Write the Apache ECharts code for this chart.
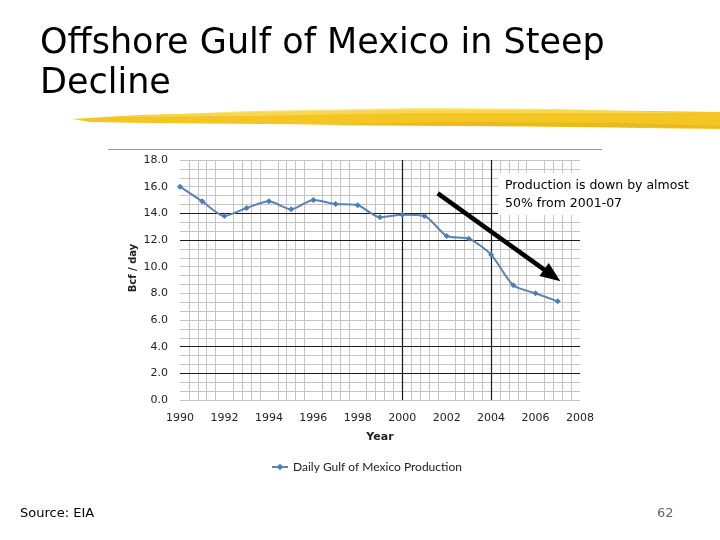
<!DOCTYPE html>
<html>
<head>
<meta charset="utf-8">
<script src="https://cdn.jsdelivr.net/npm/echarts@6/dist/echarts.min.js"></script>
<style>
html,body{margin:0;padding:0;background:#fff;}
#chart{width:720px;height:540px;}
</style>
</head>
<body>
<div id="chart"></div>
<script>
// ---- data ----
var years = [1990,1991,1992,1993,1994,1995,1996,1997,1998,1999,2000,2001,2002,2003,2004,2005,2006,2007];
var production = [16.0,14.9,13.8,14.4,14.9,14.3,15.0,14.7,14.6,13.7,13.9,13.8,12.3,12.1,10.9,8.6,8.0,7.4];
var seriesName = 'Daily Gulf of Mexico Production';
var darkGridX = [2000, 2004];
var darkGridY = [2, 4, 12, 14];
var arrowFrom = [2001.6, 15.5];
var arrowTo = [2006.75, 9.35];
var titleLines = ['Offshore Gulf of Mexico in Steep', 'Decline'];
var noteLines = ['Production is down by almost', '50% from 2001-07'];

var chart = echarts.init(document.getElementById('chart'));
var pts = years.map(function(y, i){ return [y, production[i]]; });
var darkLines = darkGridX.map(function(x){ return {xAxis: x}; })
  .concat(darkGridY.map(function(y){ return {yAxis: y}; }));

var comic = '"Comic Sans MS", "DejaVu Sans", sans-serif';

chart.setOption({
  animation: false,
  backgroundColor: '#fff',
  grid: {left: 180, top: 160, width: 400, height: 240},
  xAxis: {
    type: 'value', min: 1990, max: 2008, interval: 2,
    axisLine: {show: false}, axisTick: {show: false},
    axisLabel: {fontFamily: 'DejaVu Sans', fontSize: 11, color: '#222', margin: 13,
      formatter: function(v){ return String(v); }},
    splitLine: {show: false},
    minorTick: {show: false, splitNumber: 5},
    minorSplitLine: {show: true, lineStyle: {color: '#c4c4c4', width: 1}},
    name: 'Year', nameLocation: 'middle', nameGap: 32,
    nameTextStyle: {fontFamily: 'DejaVu Sans', fontSize: 11, fontWeight: 'bold', color: '#222'}
  },
  yAxis: {
    type: 'value', min: 0, max: 18, interval: 2,
    axisLine: {show: false}, axisTick: {show: false},
    axisLabel: {fontFamily: 'DejaVu Sans', fontSize: 11, color: '#222', margin: 12,
      formatter: function(v){ return v.toFixed(1); }},
    splitLine: {show: true, lineStyle: {color: '#c4c4c4', width: 1}},
    minorTick: {show: false, splitNumber: 3},
    minorSplitLine: {show: true, lineStyle: {color: '#c4c4c4', width: 1}}
  },
  legend: {
    left: 266, top: 456, itemWidth: 16, itemHeight: 8, itemGap: 4,
    textStyle: {fontFamily: 'Lato', fontSize: 12, color: '#222'},
    data: [seriesName]
  },
  series: [{
    name: seriesName,
    type: 'line',
    smooth: 0.25,
    data: pts,
    symbol: 'diamond', symbolSize: 6,
    itemStyle: {color: '#4A7EBB'},
    lineStyle: {color: '#5B82B0', width: 2},
    z: 5,
    markLine: {
      silent: true, symbol: 'none', animation: false,
      label: {show: false},
      lineStyle: {color: '#1a1a1a', width: 1.2, type: 'solid'},
      data: darkLines
    }
  }, {
    name: 'arrow',
    type: 'line',
    data: [],
    markLine: {
      silent: true, animation: false,
      symbol: ['none', 'triangle'], symbolSize: [16, 20],
      label: {show: false},
      itemStyle: {color: '#000'},
      lineStyle: {color: '#000', width: 4.5, type: 'solid'},
      data: [[{coord: arrowFrom}, {coord: arrowTo}]]
    },
    z: 10
  }],
  graphic: [
    // brush stroke under title
    {type: 'polygon', z: 1, shape: {points: [[72,119],[140,115],[260,112],[400,110],[540,110],[650,111],[720,112],[720,129],[640,128],[520,126],[400,125],[260,124],[150,123],[90,122]]},
      style: {fill: '#F3C623'}},
    {type: 'polygon', z: 2, shape: {points: [[110,117],[250,111],[420,108],[560,109],[700,113],[560,113],[420,113],[250,116]]},
      style: {fill: '#F8DA5C', opacity: 0.8}},
    {type: 'polygon', z: 2, shape: {points: [[300,125],[460,122],[620,123],[720,126],[720,128],[600,127],[450,126]]},
      style: {fill: '#E9B81A', opacity: 0.9}},
    // title
    {type: 'text', left: 40, top: 24, z: 3,
      style: {text: titleLines.join('\n'), font: '35px ' + comic, lineHeight: 40, fill: '#000'}},
    // chart frame top line
    {type: 'line', z: 1, shape: {x1: 108, y1: 149.5, x2: 602, y2: 149.5}, style: {stroke: '#9a9a9a', lineWidth: 1}},
    // y axis name
    {type: 'text', z: 3, x: 133, y: 268, rotation: Math.PI/2,
      style: {text: 'Bcf / day', font: 'bold 10px "DejaVu Sans"', fill: '#222', align: 'center', verticalAlign: 'middle'}},
    // annotation box
    {type: 'rect', z: 20, shape: {x: 498, y: 173, width: 200, height: 42}, style: {fill: '#fff'}},
    {type: 'text', z: 21, left: 505, top: 177,
      style: {text: noteLines.join('\n'), font: '12.5px ' + comic, lineHeight: 18, fill: '#000'}},
    // footer
    {type: 'text', z: 3, left: 20, top: 507,
      style: {text: 'Source: EIA', font: '13px ' + comic, fill: '#000'}},
    {type: 'text', z: 3, left: 657, top: 507,
      style: {text: '62', font: '13px "DejaVu Sans"', fill: '#666'}}
  ]
});
</script>
</body>
</html>
